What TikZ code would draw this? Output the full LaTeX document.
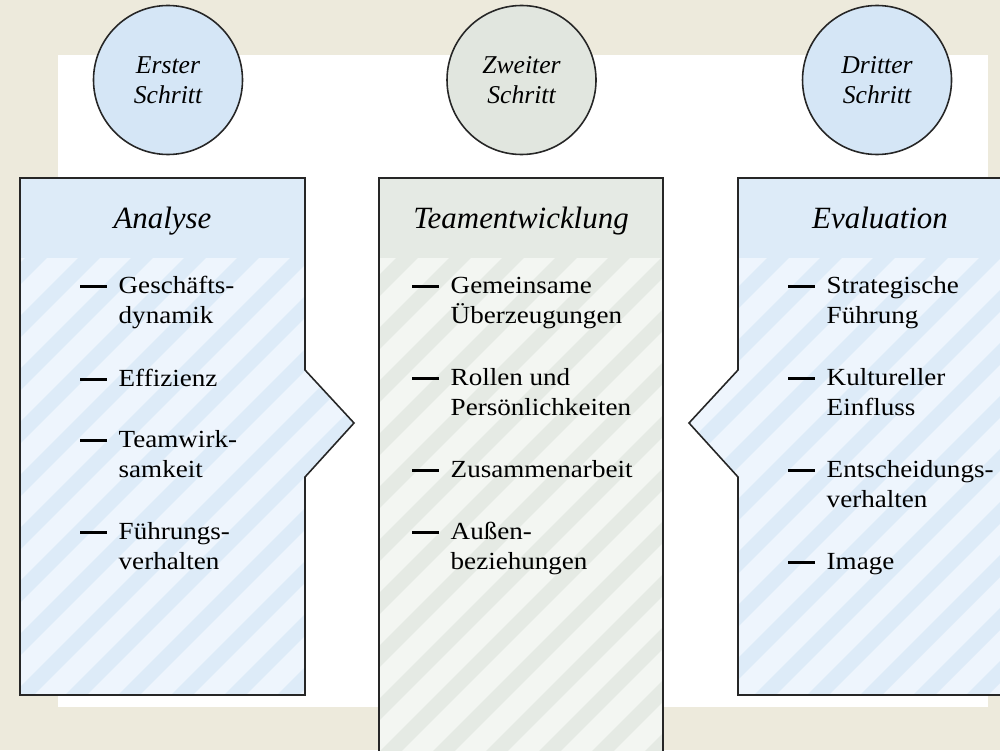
\documentclass[tikz,border=0pt]{standalone}
\usepackage{fontspec}
\setmainfont{Liberation Serif}
\newfontfamily\itemfont[FakeStretch=1.1]{Liberation Serif}
\usetikzlibrary{positioning}
\usepackage{xcolor}

\definecolor{beige}{HTML}{EDEADC}
\definecolor{blueCircle}{HTML}{D5E6F6}
\definecolor{greenCircle}{HTML}{E1E6DF}
\definecolor{blueDark}{HTML}{DDEBF8}
\definecolor{blueLight}{HTML}{EEF5FD}
\definecolor{greenDark}{HTML}{E5EAE4}
\definecolor{greenLight}{HTML}{F3F6F2}

% deux lignes, ligne de base sur la premi�re
\newcommand\twolines[2]{\vtop{\hbox{#1}\hbox{#2}}}

\tikzset{
    stepcircle/.style={circle, draw=black!85, line width=0.45pt, minimum size=1.49cm, inner sep=0pt, align=center, font=\itshape\fontsize{7.3}{8.54}\selectfont},
    boxtitle/.style={anchor=base, inner sep=0pt, font=\itshape\fontsize{8.8}{10}\selectfont},
    item/.style={anchor=base west, inner sep=0pt, font=\itemfont\fontsize{7}{8.54}\selectfont},
    outline/.style={draw=black!85, line width=0.45pt},
    stripe/.style={line width=0.155cm},
    itemdash/.style={line width=0.03cm},
}

\begin{document}
\begin{tikzpicture}
    % Param�tres
    \def\boxTop{5.72}     % haut des cadres
    \def\headBot{4.92}    % bas des en-t�tes
    \def\boxBot{0.55}     % bas des cadres lat�raux
    \def\notchHi{3.80}    % d�but de la pointe
    \def\notchMid{3.27}   % sommet de la pointe
    \def\notchLo{2.73}    % fin de la pointe

    \useasboundingbox (0,0) rectangle (10,7.5);
    \clip (0,0) rectangle (10,7.5);

    % Fond
    \fill[beige] (0,0) rectangle (10,7.5);
    \fill[white] (0.58,0.43) rectangle (9.88,6.95);

    % Cadre gauche : Analyse
    \fill[blueDark] (0.20,\headBot) rectangle (3.05,\boxTop);
    \begin{scope}
        \clip (0.20,\boxBot) -- (0.20,\headBot) -- (3.05,\headBot) -- (3.05,\notchHi) -- (3.54,\notchMid) -- (3.05,\notchLo) -- (3.05,\boxBot) -- cycle;
        \fill[blueLight] (0,0) rectangle (4,5);
        \foreach \k in {-10,...,20} {
            \draw[stripe, blueDark] (\k*0.53+0.21-6, -6) -- ++(12,12);
        }
    \end{scope}
    \draw[outline] (0.20,\boxBot) -- (0.20,\boxTop) -- (3.05,\boxTop) -- (3.05,\notchHi) -- (3.54,\notchMid) -- (3.05,\notchLo) -- (3.05,\boxBot) -- cycle;

    % Cadre central : Teamentwicklung
    \fill[greenDark] (3.79,\headBot) rectangle (6.63,\boxTop);
    \begin{scope}
        \clip (3.79,-0.1) rectangle (6.63,\headBot);
        \fill[greenLight] (3.5,-0.2) rectangle (7,5);
        \foreach \k in {-10,...,20} {
            \draw[stripe, greenDark] (\k*0.53+0.21-6, -6) -- ++(12,12);
        }
    \end{scope}
    \draw[outline] (3.79,-0.1) -- (3.79,\boxTop) -- (6.63,\boxTop) -- (6.63,-0.1);

    % Cadre droit : Evaluation
    \fill[blueDark] (7.38,\headBot) rectangle (10.23,\boxTop);
    \begin{scope}
        \clip (7.38,\boxBot) -- (7.38,\notchLo) -- (6.89,\notchMid) -- (7.38,\notchHi) -- (7.38,\headBot) -- (10.23,\headBot) -- (10.23,\boxBot) -- cycle;
        \fill[blueLight] (6.5,0) rectangle (10.5,5);
        \foreach \k in {-10,...,20} {
            \draw[stripe, blueDark] (\k*0.53+0.21-6, -6) -- ++(12,12);
        }
    \end{scope}
    \draw[outline] (7.38,\boxBot) -- (7.38,\notchLo) -- (6.89,\notchMid) -- (7.38,\notchHi) -- (7.38,\boxTop) -- (10.23,\boxTop) -- (10.23,\boxBot) -- cycle;

    % Cercles des �tapes
    \node[stepcircle, fill=blueCircle] (erster) at (1.68,6.70) {Erster\\Schritt};
    \node[stepcircle, fill=greenCircle] (zweiter) at (5.215,6.70) {Zweiter\\Schritt};
    \node[stepcircle, fill=blueCircle] (dritter) at (8.77,6.70) {Dritter\\Schritt};

    % Titres
    \node[boxtitle] (analyse) at (1.625,5.22) {Analyse};
    \node[boxtitle] (teament) at (5.21,5.22) {Teamentwicklung};
    \node[boxtitle] (evaluation) at (8.80,5.22) {Evaluation};

    % Points de la liste
    \node[item] (a1) at (1.18,4.57) {\twolines{Gesch\"afts-}{dynamik}};
    \node[item] (a2) at (1.18,3.64) {Effizienz};
    \node[item] (a3) at (1.18,3.03) {\twolines{Teamwirk-}{samkeit}};
    \node[item] (a4) at (1.18,2.11) {\twolines{F\"uhrungs-}{verhalten}};

    \node[item] (t1) at (4.50,4.57) {\twolines{Gemeinsame}{\"Uberzeugungen}};
    \node[item] (t2) at (4.50,3.65) {\twolines{Rollen und}{Pers\"onlichkeiten}};
    \node[item] (t3) at (4.50,2.73) {Zusammenarbeit};
    \node[item] (t4) at (4.50,2.11) {\twolines{Au\ss en-}{beziehungen}};

    \node[item] (e1) at (8.26,4.57) {\twolines{Strategische}{F\"uhrung}};
    \node[item] (e2) at (8.26,3.65) {\twolines{Kultureller}{Einfluss}};
    \node[item] (e3) at (8.26,2.73) {\twolines{Entscheidungs-}{verhalten}};
    \node[item] (e4) at (8.26,1.81) {Image};

    \foreach \n in {a1,a2,a3,a4,t1,t2,t3,t4,e1,e2,e3,e4} {
        \draw[itemdash] ([xshift=-0.38cm, yshift=0.07cm]\n.base west) -- ++(0.27,0);
    }

\end{tikzpicture}
\end{document}
